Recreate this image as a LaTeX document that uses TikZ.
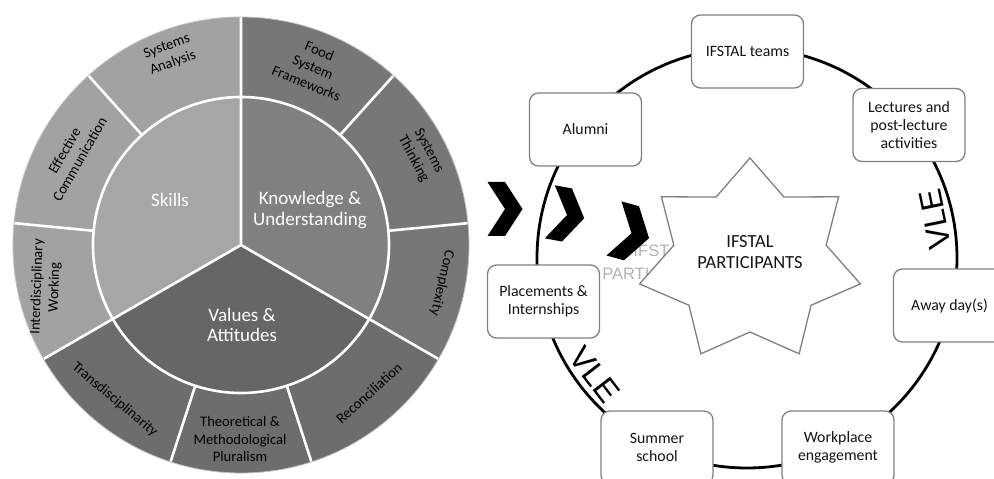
\documentclass[tikz,border=0pt]{standalone}
\usepackage{fontspec}
\setmainfont{Carlito}
\newfontfamily\vlefont{Liberation Sans}
\usetikzlibrary{positioning}

\definecolor{skillin}{HTML}{A6A6A6}
\definecolor{skillout}{HTML}{A2A2A2}
\definecolor{knowin}{HTML}{808080}
\definecolor{knowout}{HTML}{777777}
\definecolor{valin}{HTML}{666666}
\definecolor{valout}{HTML}{6D6D6D}

\begin{document}
\begin{tikzpicture}[x=1pt,y=1pt,
  segline/.style={white,line width=2.6pt},
  inlabel/.style={align=center,text=white,font=\fontsize{19}{20.5}\selectfont},
  outlabel/.style={align=center,text=black,font=\fontsize{14.6}{17.5}\selectfont},
  activity/.style={draw=black!50,fill=white,line width=1.3pt,rounded corners=9pt,
    minimum width=112pt,minimum height=73pt,align=center,text=black!92,
    font=\fontsize{15.8}{18}\selectfont},
  vle/.style={anchor=base,font=\vlefont\fontsize{32}{32}\selectfont},
  chevron/.style={fill=black}]
\useasboundingbox (0,0) rectangle (994,479);

\begin{scope}[shift={(241,234)}]
\fill[skillout] (0,0) -- (90:228) arc (90:210:228) -- cycle;
\fill[knowout] (0,0) -- (-30:228) arc (-30:90:228) -- cycle;
\fill[valout] (0,0) -- (210:228) arc (210:330:228) -- cycle;
\fill[skillin] (0,0) -- (90:148) arc (90:210:148) -- cycle;
\fill[knowin] (0,0) -- (-30:148) arc (-30:90:148) -- cycle;
\fill[valin] (0,0) -- (210:148) arc (210:330:148) -- cycle;

\draw[segline] (0,0) circle (148);
\draw[segline] (0,0) -- (90:228) (0,0) -- (210:228) (0,0) -- (330:228);
\draw[segline] (132:148) -- (132:228) (174.5:148) -- (174.5:228);
\draw[segline] (48:148) -- (48:228) (5.5:148) -- (5.5:228);
\draw[segline] (252:148) -- (252:228) (288:148) -- (288:228);
\draw[black!25,line width=0.8pt] (0,0) circle (228);

\node[inlabel] (skills) at (-71,45) {Skills};
\node[inlabel] (knowledge) at (69,35) {Knowledge \&\\Understanding};
\node[inlabel] (values) at (1,-80) {Values \&\\Attitudes};

\node[outlabel,rotate=20] (sysanalysis) at (-71,190) {Systems\\Analysis};
\node[outlabel,rotate=-22] (foodframe) at (72,178) {Food\\System\\Frameworks};
\node[outlabel,rotate=60] (effcomm) at (-169,90) {Effective\\Communication};
\node[outlabel,rotate=-62] (systhink) at (180,90) {Systems\\Thinking};
\node[outlabel,rotate=88] (interdisc) at (-195,-42) {Interdisciplinary\\Working};
\node[outlabel,rotate=-103] (complexity) at (201,-38) {Complexity};
\node[outlabel,rotate=-40] (transdisc) at (-126,-155) {Transdisciplinarity};
\node[outlabel] (pluralism) at (-1,-194) {Theoretical \&\\Methodological\\Pluralism};
\node[outlabel,rotate=42] (reconcil) at (128,-148) {Reconciliation};
\end{scope}

\draw[line width=2.8pt] (747,221) circle (210);

\node[activity] (teams) at (747.5,427.5) {IFSTAL teams};
\node[activity] (lectures) at (909,354) {Lectures and\\post-lecture\\activities};
\node[activity] (alumni) at (585.5,349.5) {Alumni};
\node[activity] (placements) at (543.5,177.5) {Placements \&\\Internships};
\node[activity] (awayday) at (949.5,173.5) {Away day(s)};
\node[activity] (summer) at (657,31.5) {Summer\\school};
\node[activity] (workplace) at (838,31.5) {Workplace\\engagement};

\node[align=center,text=black!30,font=\vlefont\fontsize{16.5}{23}\selectfont] (ghost) at (661,217) {IFSTAL\\PARTICIPANTS};

\begin{scope}[shift={(750,218)},xscale=1.1]
\draw[draw=black!50,fill=white,line width=1.3pt] (90:103) -- (64.29:71) -- (38.57:103) -- (12.86:71)
  -- (-12.86:103) -- (-38.57:71) -- (-64.29:103) -- (-90:71) -- (-115.71:103) -- (-141.43:71)
  -- (-167.14:103) -- (167.14:71) -- (141.43:103) -- (115.71:71) -- cycle;
\end{scope}
\node[align=center,text=black!92,font=\fontsize{18.5}{21.7}\selectfont] (participants) at (750,227) {IFSTAL\\PARTICIPANTS};

\fill[chevron,shift={(505,270)}] (-17.5,27) -- (0,27) -- (17.5,0) -- (0,-27) -- (-17.5,-27) -- (0,0) -- cycle;
\fill[chevron,shift={(567,264)},rotate=-10.6] (-17.5,27) -- (0,27) -- (17.5,0) -- (0,-27) -- (-17.5,-27) -- (0,0) -- cycle;
\fill[chevron,shift={(631.5,245.7)},rotate=-15.5,scale=1.04] (-17.5,27) -- (0,27) -- (17.5,0) -- (0,-27) -- (-17.5,-27) -- (0,0) -- cycle;

\node[vle,rotate=101.7] (vleright) at (945.8,262.2) {VLE};
\node[vle,rotate=-52.4] (vleleft) at (586.2,97.1) {VLE};

\end{tikzpicture}
\end{document}
